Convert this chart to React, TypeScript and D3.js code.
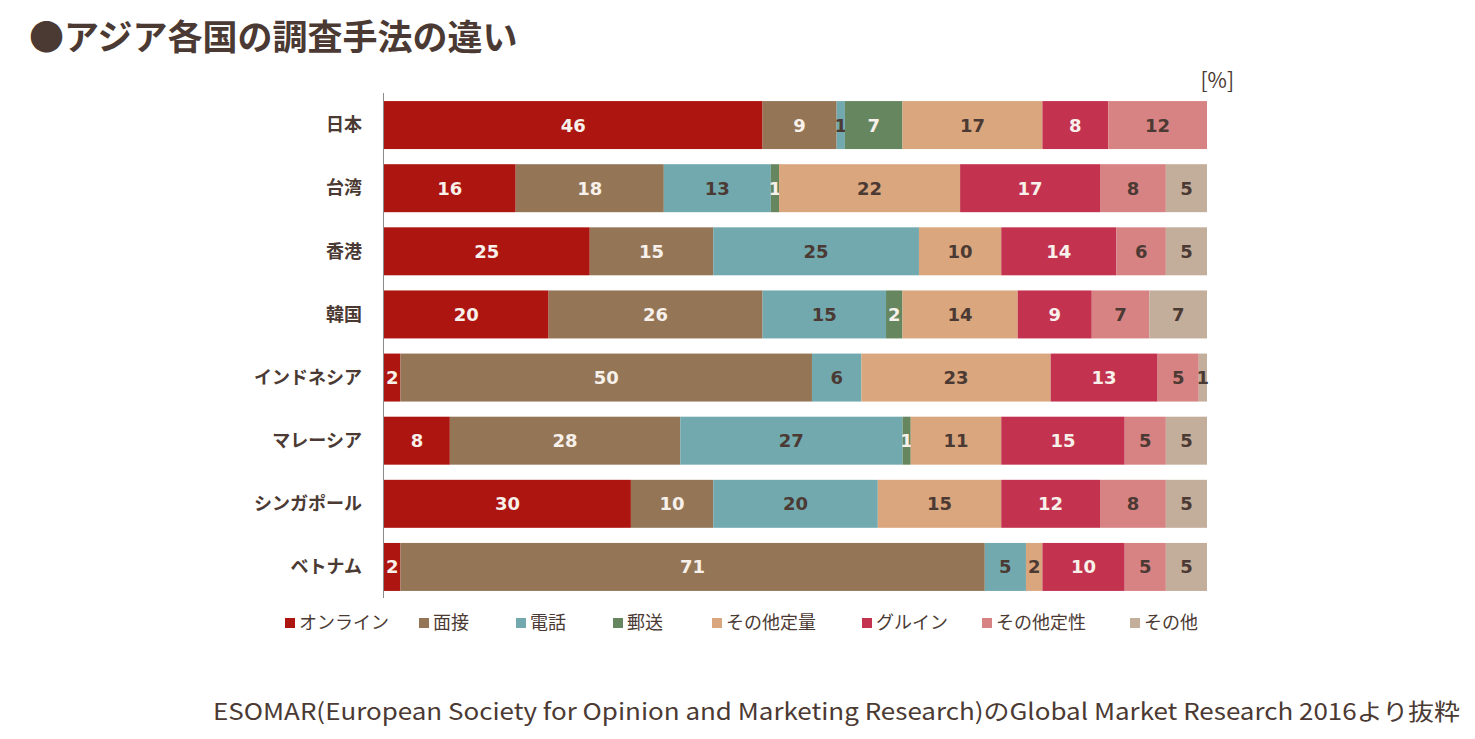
import React, { useEffect, useRef } from 'react';
import * as d3 from 'd3';

const countries = ['日本', '台湾', '香港', '韓国', 'インドネシア', 'マレーシア', 'シンガポール', 'ベトナム'];
const seriesNames = ['オンライン', '面接', '電話', '郵送', 'その他定量', 'グルイン', 'その他定性', 'その他'];

const online = [46, 16, 25, 20, 2, 8, 30, 2];
const interview = [9, 18, 15, 26, 50, 28, 10, 71];
const phone = [1, 13, 25, 15, 6, 27, 20, 5];
const mail = [7, 1, 0, 2, 0, 1, 0, 0];
const otherQuant = [17, 22, 10, 14, 23, 11, 15, 2];
const groupInterview = [8, 17, 14, 9, 13, 15, 12, 10];
const otherQual = [12, 8, 6, 7, 5, 5, 8, 5];
const other = [0, 5, 5, 7, 1, 5, 5, 5];

const seriesValues = [online, interview, phone, mail, otherQuant, groupInterview, otherQual, other];
const colors = ['#ad1510', '#947657', '#71a9ae', '#65865f', '#daa67e', '#c33350', '#d88383', '#c3ad9b'];
// light text on dark segments, dark text on light ones
const labelColors = ['#f8f0ea', '#f8f0ea', '#4b3a33', '#f8f0ea', '#4b3a33', '#f8f0ea', '#4b3a33', '#4b3a33'];
const legendX = [285, 419, 516, 613, 712, 862, 982, 1130];

const TEXT = '#4b3a33';
const JP = '"Noto Sans CJK JP", "Noto Sans", sans-serif';

const App: React.FC = () => {
  const ref = useRef<SVGSVGElement | null>(null);

  useEffect(() => {
    if (!ref.current) return;
    const svg = d3.select(ref.current);
    svg.selectAll('*').remove();

    const x = d3.scaleLinear().domain([0, 100]).range([384, 1207]);
    const y = d3.scaleBand().domain(countries).range([93.5, 598.5]).paddingInner(0.24).paddingOuter(0.12);

    const rows = countries.map((c, i) => {
      const row: any = { country: c };
      seriesNames.forEach((s, j) => (row[s] = seriesValues[j][i]));
      return row;
    });
    const stacked = d3.stack<any>().keys(seriesNames)(rows);

    // title
    svg.append('text')
      .attr('x', 29).attr('y', 50)
      .attr('font-family', JP).attr('font-weight', 700).attr('font-size', 35)
      .attr('fill', TEXT)
      .text('●アジア各国の調査手法の違い');

    svg.append('text')
      .attr('x', 1234).attr('y', 88).attr('text-anchor', 'end')
      .attr('font-family', JP).attr('font-size', 21).attr('fill', TEXT)
      .text('[%]');

    const groups = svg.append('g')
      .selectAll('g')
      .data(stacked)
      .enter()
      .append('g')
      .attr('fill', (_d, i) => colors[i]);

    groups.selectAll('rect')
      .data((d) => d)
      .enter()
      .append('rect')
      .attr('x', (d) => x(d[0]))
      .attr('y', (d) => y(d.data.country)!)
      .attr('width', (d) => x(d[1]) - x(d[0]))
      .attr('height', y.bandwidth());

    groups.each(function (series, si) {
      d3.select(this)
        .selectAll('text')
        .data(series.filter((d) => d[1] - d[0] > 0))
        .enter()
        .append('text')
        .attr('x', (d) => (x(d[0]) + x(d[1])) / 2)
        .attr('y', (d) => y(d.data.country)! + y.bandwidth() / 2)
        .attr('dy', '0.36em')
        .attr('text-anchor', 'middle')
        .attr('font-family', '"DejaVu Sans", Verdana, sans-serif')
        .attr('font-weight', 700)
        .attr('font-size', 18)
        .attr('fill', labelColors[si])
        .text((d) => d[1] - d[0]);
    });

    // axis line
    svg.append('line')
      .attr('x1', 383.5).attr('x2', 383.5)
      .attr('y1', 93).attr('y2', 598)
      .attr('stroke', '#8c8c8c').attr('stroke-width', 1);

    svg.append('g')
      .selectAll('text')
      .data(countries)
      .enter()
      .append('text')
      .attr('x', 362)
      .attr('y', (d) => y(d)! + y.bandwidth() / 2)
      .attr('dy', '0.35em')
      .attr('text-anchor', 'end')
      .attr('font-family', JP).attr('font-weight', 700).attr('font-size', 18)
      .attr('fill', TEXT)
      .text((d) => d);

    // legend
    const legend = svg.append('g')
      .selectAll('g')
      .data(seriesNames)
      .enter()
      .append('g')
      .attr('transform', (_d, i) => `translate(${legendX[i]},623)`);
    legend.append('rect')
      .attr('x', 0).attr('y', -5).attr('width', 10).attr('height', 10)
      .attr('fill', (_d, i) => colors[i]);
    legend.append('text')
      .attr('x', 14).attr('dy', '0.36em')
      .attr('font-family', JP).attr('font-size', 18)
      .attr('fill', TEXT)
      .text((d) => d);

    svg.append('text')
      .attr('x', 213).attr('y', 720)
      .attr('textLength', 1247).attr('lengthAdjust', 'spacingAndGlyphs')
      .attr('font-family', JP).attr('font-size', 23)
      .attr('fill', TEXT)
      .text('ESOMAR(European Society for Opinion and Marketing Research)のGlobal Market Research 2016より抜粋');
  }, []);

  return (
    <svg
      ref={ref}
      width={1475}
      height={739}
      style={{ position: 'absolute', left: 0, top: 0, background: '#fff' }}
    ></svg>
  );
};

export default App;
